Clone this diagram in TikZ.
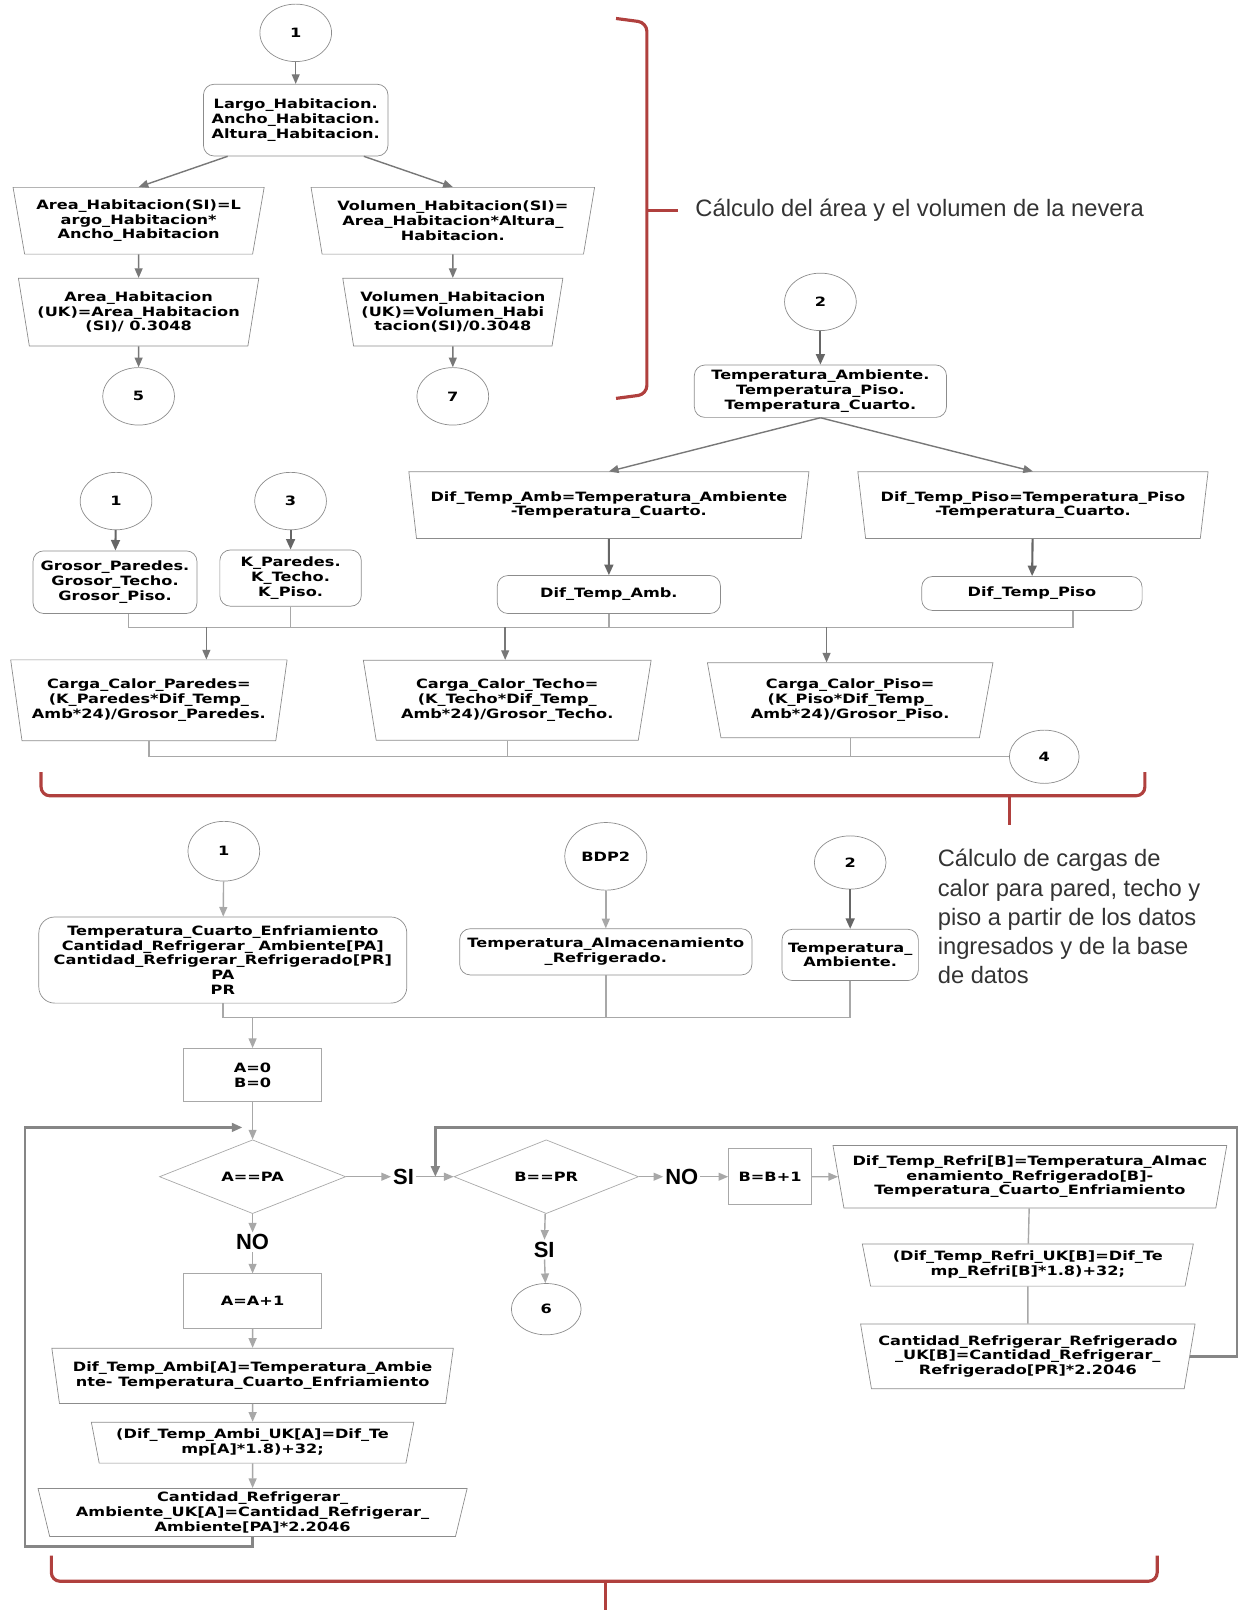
\documentclass[tikz,border=0pt]{standalone}
\usepackage{fontspec}
\setmainfont{DejaVu Sans}[FakeStretch=1.26]
\newfontfamily\notefont{Liberation Sans}
\usetikzlibrary{arrows.meta,shapes.geometric}
\definecolor{linea}{HTML}{787878}
\definecolor{lineaclara}{HTML}{A8A8A8}
\definecolor{borde}{HTML}{8C8C8C}
\definecolor{llave}{HTML}{B0403E}
\tikzset{
  conector/.style={ellipse, draw=borde, minimum width=40.8pt, minimum height=32.7pt, inner sep=0pt},
  datos/.style={rectangle, rounded corners=6pt, draw=borde, align=center, inner sep=1pt},
  trap/.style={trapezium, trapezium stretches=true, shape border rotate=180,
    trapezium left angle=77, trapezium right angle=77, draw=borde, align=center, inner sep=1pt},
  caja/.style={rectangle, draw=lineaclara, align=center},
  decision/.style={diamond, draw=lineaclara, inner sep=0pt},
  etiqueta/.style={font=\notefont\bfseries\fontsize{12.5}{14}\selectfont, inner sep=1pt},
  flecha/.style={draw=linea, line width=0.8pt, -{Triangle[length=5.5pt,width=4.5pt]}},
  flechag/.style={draw=linea!85!black, line width=1.2pt, -{Triangle[length=6pt,width=5pt]}},
  flechac/.style={draw=lineaclara, line width=0.8pt, -{Triangle[length=5.5pt,width=4.5pt]}},
  linea/.style={draw=lineaclara, line width=0.8pt},
  lazo/.style={draw=lineaclara!80!black, line width=1.3pt, -{Triangle[length=6pt,width=5pt]}},
  llave/.style={draw=llave, line width=1.8pt, rounded corners=5pt},
  nota/.style={font=\notefont\fontsize{13.5}{16.6}\selectfont, text=black!80, align=left, inner sep=0pt}
}
\begin{document}
\begin{tikzpicture}[x=0.020531cm, y=-0.020531cm, font=\fontsize{7.3}{8.4}\selectfont\bfseries]
  \useasboundingbox (0,0) rectangle (1206,1568);
  % area y volumen
  \node[conector] (c1) at (288,32) {1};
  \node[datos, minimum width=105pt, minimum height=40.8pt] (in1) at (288,117)
    {Largo\_Habitacion.\\Ancho\_Habitacion.\\Altura\_Habitacion.};
  \node[trap, minimum width=143pt, minimum height=38pt] (area) at (135,215)
    {Area\_Habitacion(SI)=L\\argo\_Habitacion*\\Ancho\_Habitacion};
  \node[trap, minimum width=161.6pt, minimum height=38pt] (vol) at (441,215)
    {Volumen\_Habitacion(SI)=\\Area\_Habitacion*Altura\_\\Habitacion.};
  \node[trap, minimum width=137pt, minimum height=38.5pt] (areauk) at (135,304)
    {Area\_Habitacion\\(UK)=Area\_Habitacion\\(SI)/ 0.3048};
  \node[trap, minimum width=125.4pt, minimum height=38.5pt] (voluk) at (441,304)
    {Volumen\_Habitacion\\(UK)=Volumen\_Habi\\tacion(SI)/0.3048};
  \node[conector] (c5) at (135,386) {5};
  \node[conector] (c7) at (441,386) {7};
  \draw[flecha] (c1) -- (in1);
  \draw[flecha] (in1.-152) -- (area.north);
  \draw[flecha] (in1.-28) -- (vol.north);
  \draw[flecha] (area) -- (areauk);
  \draw[flecha] (vol) -- (voluk);
  \draw[flecha] (areauk) -- (c5);
  \draw[flecha] (voluk) -- (c7);
  \draw[llave] (600,18) -- (630,22) -- (630,384) -- (600,388);
  \draw[llave] (630,205) -- (660,205);
  \node[nota, anchor=west] (nota1) at (677,205) {Cálculo del área y el volumen de la nevera};
  % cargas de calor
  \node[conector] (c2) at (799,294) {2};
  \node[datos, minimum width=143.5pt, minimum height=29.8pt] (in2) at (799,381)
    {Temperatura\_Ambiente.\\Temperatura\_Piso.\\Temperatura\_Cuarto.};
  \node[trap, minimum width=228pt, minimum height=38pt] (dtamb) at (593,492)
    {Dif\_Temp\_Amb=Temperatura\_Ambiente\\-Temperatura\_Cuarto.};
  \node[trap, minimum width=199.5pt, minimum height=38pt] (dtpiso) at (1006,492)
    {Dif\_Temp\_Piso=Temperatura\_Piso\\-Temperatura\_Cuarto.};
  \node[datos, minimum width=127pt, minimum height=21.6pt] (rdtamb) at (593,579) {Dif\_Temp\_Amb.};
  \node[datos, minimum width=125.4pt, minimum height=19.3pt] (rdtpiso) at (1005,578) {Dif\_Temp\_Piso};
  \node[conector] (c1b) at (113,488) {1};
  \node[conector] (c3) at (283,488) {3};
  \node[datos, minimum width=93.3pt, minimum height=35.6pt] (gp) at (112,567)
    {Grosor\_Paredes.\\Grosor\_Techo.\\Grosor\_Piso.};
  \node[datos, minimum width=80.5pt, minimum height=32pt] (kp) at (283,563)
    {K\_Paredes.\\K\_Techo.\\K\_Piso.};
  \node[trap, minimum width=157.5pt, minimum height=46pt] (cargaP) at (145,682)
    {Carga\_Calor\_Paredes=\\(K\_Paredes*Dif\_Temp\_\\Amb*24)/Grosor\_Paredes.};
  \node[trap, minimum width=164pt, minimum height=45.5pt] (cargaT) at (494,682)
    {Carga\_Calor\_Techo=\\(K\_Techo*Dif\_Temp\_\\Amb*24)/Grosor\_Techo.};
  \node[trap, minimum width=162.8pt, minimum height=42.6pt] (cargaPi) at (828,682)
    {Carga\_Calor\_Piso=\\(K\_Piso*Dif\_Temp\_\\Amb*24)/Grosor\_Piso.};
  \node[conector, minimum width=39.7pt, minimum height=30.3pt] (c4) at (1017,737) {4};
  \draw[flechag] (c2) -- (in2);
  \draw[flecha] (in2.south) -- (dtamb.north);
  \draw[flecha] (in2.south) -- (dtpiso.north);
  \draw[flechag] (dtamb) -- (rdtamb);
  \draw[flechag] (dtpiso) -- (rdtpiso);
  \draw[flechag] (c1b) -- (gp);
  \draw[flechag] (c3) -- (kp);
  \coordinate (bus1) at (125,611);
  \coordinate (bus1f) at (1045,611);
  \draw[linea] (gp.south -| bus1) -- (bus1) -- (bus1f) -- (rdtpiso.south -| bus1f);
  \draw[linea] (kp.south) -- (kp.south |- bus1);
  \draw[linea] (rdtamb.south) -- (rdtamb.south |- bus1);
  \foreach \x/\n in {201/cargaP, 492/cargaT, 805/cargaPi}{
    \coordinate (a\n) at (\x,611);
    \draw[flecha] (a\n) -- (a\n |- \n.north);}
  \coordinate (bus2) at (145,737);
  \draw[linea] (cargaP.south) -- (cargaP.south |- bus2) -- (c4.west);
  \draw[linea] (cargaT.south) -- (cargaT.south |- bus2);
  \draw[linea] (cargaPi.south) -- (cargaPi.south |- bus2);
  \draw[llave] (40,752) -- (40,775) -- (1115,775) -- (1115,752);
  \draw[llave] (983,775) -- (983,803);
  \node[nota, anchor=north west] (nota2) at (913,827)
    {Cálculo de cargas de\\calor para pared, techo y\\piso a partir de los datos\\ingresados y de la base\\de datos};
  % cantidades a refrigerar
  \node[conector, minimum height=34pt] (c1c) at (218,829) {1};
  \node[conector, minimum width=46.7pt, minimum height=38.5pt] (bdp2) at (590,834) {BDP2};
  \node[conector, minimum height=30.3pt] (c2b) at (828,840) {2};
  \node[datos, rounded corners=9pt, minimum width=209.4pt, minimum height=49pt] (in3) at (217,935)
    {Temperatura\_Cuarto\_Enfriamiento\\Cantidad\_Refrigerar\_ Ambiente[PA]\\Cantidad\_Refrigerar\_Refrigerado[PR]\\PA\\PR};
  \node[datos, minimum width=166.3pt, minimum height=26.3pt] (tal) at (590,927)
    {Temperatura\_Almacenamiento\\\_Refrigerado.};
  \node[datos, minimum width=77.6pt, minimum height=29.2pt] (tamb) at (828,930)
    {Temperatura\_\\Ambiente.};
  \draw[flechac] (c1c) -- (in3);
  \draw[flechac] (bdp2) -- (tal);
  \draw[flechag] (c2b) -- (tamb);
  \node[caja, minimum width=78.8pt, minimum height=30.3pt] (a0) at (246,1047) {A=0\\B=0};
  \coordinate (bus3) at (218,991);
  \draw[linea] (in3.south) -- (in3.south |- bus3) -- (tamb.south |- bus3) -- (tamb.south);
  \draw[linea] (tal.south) -- (tal.south |- bus3);
  \draw[flechac] (a0.north |- bus3) -- (a0.north);
  \node[decision, minimum width=106pt, minimum height=42pt] (d1) at (246,1146) {A==PA};
  \node[decision, minimum width=105pt, minimum height=42pt] (d2) at (532,1146) {B==PR};
  \node[etiqueta] (si1) at (393,1146) {SI};
  \node[etiqueta] (no2) at (664,1146) {NO};
  \node[caja, minimum width=47.3pt, minimum height=32pt] (b1) at (750,1146) {B=B+1};
  \node[trap, minimum width=224.6pt, minimum height=35.6pt] (dtr) at (1003,1146)
    {Dif\_Temp\_Refri[B]=Temperatura\_Almac\\enamiento\_Refrigerado[B]-\\Temperatura\_Cuarto\_Enfriamiento};
  \node[trap, minimum width=188.4pt, minimum height=24pt] (dtruk) at (1001,1232)
    {(Dif\_Temp\_Refri\_UK[B]=Dif\_Te\\mp\_Refri[B]*1.8)+32;};
  \node[trap, minimum width=190.8pt, minimum height=36.8pt] (cantR) at (1001,1321)
    {Cantidad\_Refrigerar\_Refrigerado\\\_UK[B]=Cantidad\_Refrigerar\_\\Refrigerado[PR]*2.2046};
  \node[etiqueta] (si2) at (530,1217) {SI};
  \node[conector, minimum width=39.7pt, minimum height=29.2pt] (c6) at (532,1275) {6};
  \node[etiqueta] (no1) at (246,1210) {NO};
  \node[caja, minimum width=78.8pt, minimum height=30.9pt] (a1) at (246,1267) {A=A+1};
  \node[trap, minimum width=228.7pt, minimum height=31.5pt] (dta) at (246,1340)
    {Dif\_Temp\_Ambi[A]=Temperatura\_Ambie\\nte- Temperatura\_Cuarto\_Enfriamiento};
  \node[trap, minimum width=183.8pt, minimum height=23.3pt] (dtauk) at (246,1405)
    {(Dif\_Temp\_Ambi\_UK[A]=Dif\_Te\\mp[A]*1.8)+32;};
  \node[trap, minimum width=244.4pt, minimum height=27.4pt] (ca) at (246,1473)
    {Cantidad\_Refrigerar\_\\Ambiente\_UK[A]=Cantidad\_Refrigerar\_\\Ambiente[PA]*2.2046};
  \draw[flechac] (a0) -- (d1);
  \draw[flechac] (d1) -- (si1);
  \draw[flechac] (si1) -- (d2);
  \draw[flechac] (d2) -- (no2);
  \draw[flechac] (no2) -- (b1);
  \draw[flechac] (b1) -- (dtr);
  \draw[linea] (dtr) -- (dtruk);
  \draw[linea] (dtruk) -- (cantR);
  \draw[flechac] (d2) -- (si2);
  \draw[flechac] (si2) -- (c6);
  \draw[flechac] (d1) -- (no1);
  \draw[flechac] (no1) -- (a1);
  \draw[flechac] (a1) -- (dta);
  \draw[flechac] (dta) -- (dtauk);
  \draw[flechac] (dtauk) -- (ca);
  \coordinate (lazoA) at (24,1506);
  \coordinate (lazoB) at (24,1098);
  \coordinate (lazoC) at (236,1098);
  \draw[lazo] (ca.south) -- (ca.south |- lazoA) -- (lazoA) -- (lazoB) -- (lazoC);
  \coordinate (lazoD) at (1205,1098);
  \coordinate (lazoE) at (424,1098);
  \draw[lazo] (cantR.east) -| (lazoD) -- (lazoE) -- (lazoE |- d2);
  \draw[llave] (50,1515) -- (50,1540) -- (1127,1540) -- (1127,1515);
  \draw[llave] (590,1540) -- (590,1568);
\end{tikzpicture}
\end{document}
